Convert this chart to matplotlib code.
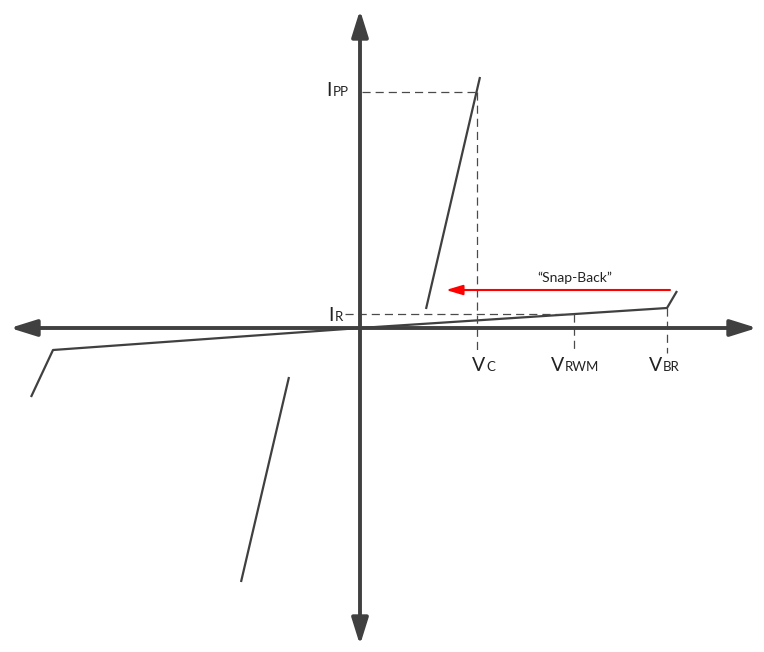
import matplotlib
matplotlib.use("Agg")
import matplotlib.pyplot as plt

plt.rcParams['font.family'] = ['Lato', 'DejaVu Sans']

# ---- data (arbitrary V / I units, origin at axes crossing) ----
V_C, V_RWM, V_BR = 117, 214, 307
I_PP, I_R, I_T = 236, 14, 20

# forward (positive) leakage + breakdown knee
pos_v = [0, V_BR, 317]
pos_i = [0, I_T, 37]
# snap-back clamp line
clamp_v = [66, 120]
clamp_i = [19, 251]
# negative side leakage + knee
neg_v = [0, -307, -329]
neg_i = [0, -22, -69]
# negative clamp line
nclamp_v = [-71, -119]
nclamp_i = [-49, -254]

# snap-back arrow (from, to) at current level
snap_v = [310, 86]
snap_i = 38

# axis extents
x_ext = [-350, 397]
y_ext = [-317, 318]

COL = '#404040'
DASH = '#4a4a4a'

fig = plt.figure(figsize=(7.64, 6.52), dpi=100)
ax = fig.add_axes([0, 0, 1, 1])
ax.set_xlim(-360, 404)
ax.set_ylim(-324, 328)
ax.axis('off')

# axes with arrow heads
for xy, xyt in [((x_ext[1], 0), (x_ext[0], 0)), ((0, y_ext[1]), (0, y_ext[0]))]:
    ax.annotate('', xy=xy, xytext=xyt,
                arrowprops=dict(arrowstyle='<|-|>,head_length=16,head_width=5',
                                mutation_scale=1, lw=2.8, color=COL,
                                shrinkA=0, shrinkB=0))

# curves
lw = 1.6
ax.plot(pos_v, pos_i, color=COL, lw=lw, solid_capstyle='butt')
ax.plot(clamp_v, clamp_i, color=COL, lw=lw, solid_capstyle='butt')
ax.plot(neg_v, neg_i, color=COL, lw=lw, solid_capstyle='butt')
ax.plot(nclamp_v, nclamp_i, color=COL, lw=lw, solid_capstyle='butt')

# dashed guides
dk = dict(color=DASH, lw=0.9, dashes=(6.5, 4))
y_bot = -25
ax.plot([2, V_C], [I_PP, I_PP], **dk)
ax.plot([V_C, V_C], [I_PP, y_bot], **dk)
ax.plot([-15, V_RWM], [I_R, I_R], **dk)
ax.plot([V_RWM, V_RWM], [I_R, y_bot], **dk)
ax.plot([V_BR, V_BR], [I_T, y_bot], **dk)

# snap-back arrow
ax.annotate('', xy=(snap_v[1], snap_i), xytext=(snap_v[0], snap_i),
            arrowprops=dict(arrowstyle='-|>,head_length=10,head_width=3',
                            mutation_scale=1, lw=1.5, color='#ff0000',
                            shrinkA=0, shrinkB=0))
ax.text(215, 46, '\u201cSnap-Back\u201d', ha='center', va='baseline',
        fontsize=10, color='#222222')

# labels: (main, sub, boundary x, baseline y)
big, small = 14, 9.5
labels = [
    ('V', 'C', V_C + 8, -43),
    ('V', 'RWM', V_RWM - 10, -43),
    ('V', 'BR', V_BR - 5, -43),
    ('I', 'PP', -28, I_PP - 4),
    ('I', 'R', -26, I_R - 7),
]
for main, sub, bx, by in labels:
    ax.text(bx, by, main, ha='right', va='baseline', fontsize=big, color='#222222')
    ax.text(bx + 1, by, sub, ha='left', va='baseline', fontsize=small, color='#222222')

fig.savefig('out.png', dpi=100)
